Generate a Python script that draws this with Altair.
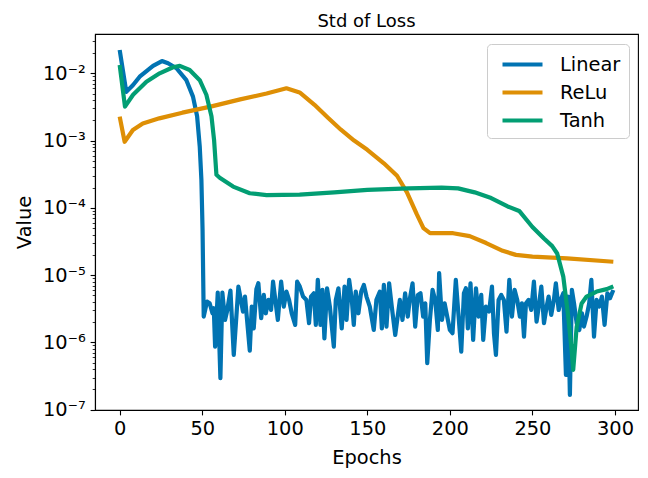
import altair as alt
import pandas as pd

# ---- data ----
linear_epoch = [0, 4, 8.1, 12.1, 20.2, 25.6, 29.3, 34.4, 40.4, 44.4, 46.9, 48.5, 49.5, 50.2, 50.9,
                52.9, 54.5, 56.2, 57.0, 57.8, 59.4, 61.0, 62.2, 63.8, 65.0, 67.1, 69.1, 71.9, 74.7,
                75.9, 78.8, 80.0, 81.2, 82.8, 84.0, 85.7, 87.3, 88.5, 90.1, 91.7, 92.9, 95.8, 97.8,
                99.4, 101.0, 102.6, 104.2, 106.3, 107.5, 109.1, 111.1, 113.1, 114.7, 115.9, 117.6,
                118.8, 120.0, 121.6, 122.8, 124.0, 125.6, 127.3, 129.7, 130.9, 132.5, 134.5, 136.2,
                137.4, 139.0, 140.6, 141.8, 143.0, 144.6, 146.3, 147.9, 149.5, 151.5, 153.9, 155.5,
                157.6, 158.8, 160.0, 161.6, 163.2, 164.8, 166.9,
                169.7, 171.3, 172.9, 174.5, 175.8, 177.4, 179.0, 180.6, 182.2, 183.8, 185.1, 186.3,
                187.9, 189.5, 191.1, 192.7, 193.5, 195.2, 196.8, 198.4, 200.0, 201.6, 203.6, 205.3,
                206.9, 208.5, 209.7, 210.9, 212.5, 214.1, 215.8, 217.4, 219.0, 220.2, 221.8, 223.8,
                225.5, 226.7, 227.9, 229.5, 231.1, 232.7, 234.3, 236.0, 237.6, 239.2, 240.8, 242.4,
                243.6, 244.9, 246.1, 247.7, 249.3, 250.9, 252.5, 253.7, 255.4, 257.0, 258.6, 259.8,
                261.4, 263.0, 264.2, 265.9, 267.5, 268.7, 270.3, 271.5, 272.7, 273.9, 275.2, 276.8,
                278.4, 280.0, 281.2, 282.8, 284.4, 285.7, 287.3, 288.9, 290.5, 292.1, 293.7, 295.4,
                297.0, 299.0]
linear_value = [0.0222, 0.0053, 0.0067, 0.0089, 0.0129, 0.0152, 0.0141, 0.0119, 0.0079, 0.0045,
                0.0023, 0.00081, 0.00026, 0.000047, 2.42e-6,
                4.04e-6, 3.82e-6, 2.71e-6, 3.22e-6, 8.67e-7, 5.50e-6, 2.94e-7, 5.50e-6, 2.16e-6,
                2.87e-6, 5.89e-6, 6.52e-7, 6.76e-6, 2.87e-6, 4.80e-6, 7.56e-7, 3.41e-6, 1.62e-6,
                6.17e-6, 7.57e-6, 2.29e-6, 5.08e-6, 2.71e-6, 4.28e-6, 3.04e-6, 8.0e-6, 2.16e-6,
                8.0e-6, 3.41e-6, 5.69e-6, 4.28e-6, 2.71e-6, 1.82e-6, 8.0e-6, 6.76e-6, 4.80e-6,
                4.28e-6, 1.93e-6, 4.80e-6, 5.38e-6, 1.82e-6, 8.49e-6, 1.82e-6, 6.03e-6, 1.15e-6,
                6.38e-6, 3.41e-6, 8.67e-7, 4.28e-6, 6.38e-6, 1.62e-6, 6.76e-6, 2.16e-6, 8.49e-6,
                4.28e-6, 1.82e-6, 5.69e-6, 2.71e-6, 5.69e-6, 7.14e-6, 4.80e-6, 3.41e-6, 1.53e-6,
                4.28e-6, 5.69e-6, 1.62e-6, 7.14e-6, 1.72e-6, 7.57e-6, 3.41e-6, 1.29e-6,
                4.28e-6, 2.16e-6, 5.38e-6, 2.42e-6, 4.53e-6, 7.57e-6, 1.72e-6, 5.08e-6, 5.38e-6,
                2.42e-6, 3.82e-6, 4.91e-7, 2.16e-6, 6.03e-6, 4.28e-6, 1.53e-6, 1.07e-5, 2.16e-6,
                3.82e-6, 2.42e-6, 1.53e-6, 1.37e-6, 8.49e-6, 2.42e-6, 7.31e-7, 5.38e-6, 6.38e-6,
                1.62e-6, 7.57e-6, 1.09e-6, 6.38e-6, 2.42e-6, 5.08e-6, 1.09e-6, 3.41e-6, 2.87e-6,
                6.76e-6, 1.37e-6, 6.52e-7, 4.28e-6, 5.08e-6, 4.28e-6, 1.45e-6, 8.49e-6, 2.42e-6,
                6.03e-6, 4.28e-6, 2.42e-6, 3.82e-6, 1.22e-6, 3.82e-6, 4.28e-6, 3.04e-6, 8.0e-6,
                2.04e-6, 3.22e-6, 6.76e-6, 1.93e-6, 3.41e-6, 4.80e-6, 2.56e-6, 4.28e-6, 7.57e-6,
                3.04e-6, 4.53e-6, 5.38e-6, 3.29e-7, 4.80e-6, 1.66e-7, 6.03e-6, 3.82e-6, 1.93e-6,
                1.53e-6, 2.71e-6, 1.72e-6, 2.42e-6, 3.82e-6, 8.49e-6, 1.22e-6, 4.28e-6, 3.41e-6,
                4.80e-6, 1.82e-6, 5.38e-6, 4.53e-6, 6.03e-6]

relu_epoch = [0, 3, 8, 14, 24, 38, 55, 73, 89, 101, 109, 118, 126, 134, 142, 150, 160, 168,
              174, 180, 184, 188, 195, 202, 212, 222, 232, 240, 250, 271, 299]
relu_value = [2.27e-3, 9.6e-4, 1.44e-3, 1.8e-3, 2.14e-3, 2.6e-3, 3.2e-3, 4.1e-3, 5.0e-3, 6.0e-3,
              5.2e-3, 3.4e-3, 2.2e-3, 1.45e-3, 1.0e-3, 7.3e-4, 4.6e-4, 3.0e-4, 1.7e-4, 8.0e-5,
              5.0e-5, 4.2e-5, 4.2e-5, 4.2e-5, 3.8e-5, 3.0e-5, 2.3e-5, 2.0e-5, 1.88e-5, 1.78e-5,
              1.58e-5]

tanh_epoch = [0, 3.2, 8.1, 16.2, 24.2, 32.3, 36.4, 42.4, 48.5, 52.5, 55.6, 57.2, 58.6, 60.6,
              68.7, 78.8, 89, 109, 130, 150, 175, 195, 205, 215, 225, 235, 242, 250, 257, 262,
              265, 268.7, 271.7, 273.7, 274.7, 276.8, 279.8, 282.8, 288.9, 295, 299]
tanh_value = [0.0133, 3.2e-3, 4.8e-3, 7.5e-3, 0.0100, 0.0123, 0.0129, 0.0112, 7.9e-3, 4.8e-3,
              2.3e-3, 1.0e-3, 3.1e-4, 2.8e-4, 2.07e-4, 1.65e-4, 1.55e-4, 1.57e-4, 1.7e-4,
              1.85e-4, 1.95e-4, 2.0e-4, 1.95e-4, 1.7e-4, 1.4e-4, 1.05e-4, 9.0e-5, 5.2e-5,
              3.5e-5, 2.7e-5, 2.1e-5, 9.5e-6, 2.4e-6, 7.8e-7, 3.9e-7, 1.7e-6, 3.8e-6, 4.8e-6,
              5.7e-6, 6.2e-6, 6.8e-6]

series_names = ["Linear", "ReLu", "Tanh"]
series_colors = ["#0173b2", "#de8f05", "#029e73"]
x_ticks = [0, 50, 100, 150, 200, 250, 300]
y_major = [1e-7, 1e-6, 1e-5, 1e-4, 1e-3, 1e-2]
y_minor = [m * 10.0 ** e for e in range(-8, -1) for m in range(2, 10)]
y_minor = [v for v in y_minor if 9.9e-8 < v < 0.038]

rows = []
for name, xs, ys in zip(series_names, [linear_epoch, relu_epoch, tanh_epoch],
                        [linear_value, relu_value, tanh_value]):
    rows += [{"Epoch": x, "Value": y, "Series": name} for x, y in zip(xs, ys)]
df = pd.DataFrame(rows)

FONT = "DejaVu Sans"
FS = 19.4
is_major = "abs(log(datum.value)/LN10 - round(log(datum.value)/LN10)) < 0.001"
sup = "['\u2070','\u00b9','\u00b2','\u00b3','\u2074','\u2075','\u2076','\u2077','\u2078','\u2079']"
label_expr = (is_major + " ? '10\u207b' + " + sup +
              "[-round(log(datum.value)/LN10)] : ''")

chart = alt.Chart(df).mark_line(strokeWidth=4.2, strokeJoin="round", clip=True).encode(
    x=alt.X("Epoch:Q",
            scale=alt.Scale(domain=[-14.95, 313.95], nice=False, zero=False),
            axis=alt.Axis(values=x_ticks, title="Epochs", grid=False, tickSize=4.9,
                          tickColor="black", tickWidth=1.1, domainColor="black",
                          domainWidth=1.1, labelPadding=4.5, labelFont=FONT,
                          labelFontSize=FS, labelColor="black", labelFlush=False,
                          labelOverlap=False, titleFont=FONT, titleFontSize=FS,
                          titleFontWeight="normal", titleColor="black",
                          titleBaseline="alphabetic", titleX=271.5, titleY=53)),
    y=alt.Y("Value:Q",
            scale=alt.Scale(type="log", domain=[9.89e-8, 0.0384], nice=False),
            axis=alt.Axis(values=y_major + y_minor, title="Value", grid=False,
                          tickSize={"condition": {"test": is_major, "value": 4.9}, "value": 2.8},
                          tickWidth={"condition": {"test": is_major, "value": 1.1}, "value": 0.8},
                          tickColor="black", domainColor="black", domainWidth=1.1,
                          labelExpr=label_expr, labelPadding=4.9, labelFont=FONT,
                          labelFontSize=FS, labelColor="black", labelOverlap=False,
                          labelFlush=False, labelBaseline="middle",
                          titleFont=FONT, titleFontSize=FS, titleFontWeight="normal",
                          titleColor="black", titleAngle=270, titleBaseline="alphabetic",
                          titleAlign="center", titleX=-65, titleY=188)),
    color=alt.Color("Series:N",
                    scale=alt.Scale(domain=series_names, range=series_colors),
                    legend=alt.Legend(title=None, orient="none", legendX=392, legendY=10,
                                      symbolType="M-2,0H2", symbolSize=400,
                                      symbolStrokeWidth=4.2, symbolOffset=15,
                                      labelFont=FONT, labelFontSize=FS, labelColor="black",
                                      labelOffset=25, padding=8, rowPadding=6,
                                      strokeColor="#cccccc", cornerRadius=4,
                                      fillColor="white")),
).properties(
    width=543, height=376,
    title=alt.TitleParams("Std of Loss", font=FONT, fontSize=18, fontWeight="normal",
                          color="black", anchor="middle", baseline="alphabetic", offset=8,
                          frame="group", dy=22),
    autosize=alt.AutoSizeParams(type="none"),
    padding={"left": 87, "top": 26, "right": 2, "bottom": 60},
).configure_view(stroke="black", strokeWidth=1.1)

chart.save("out.html", embed_options={"renderer": "svg", "actions": False})
